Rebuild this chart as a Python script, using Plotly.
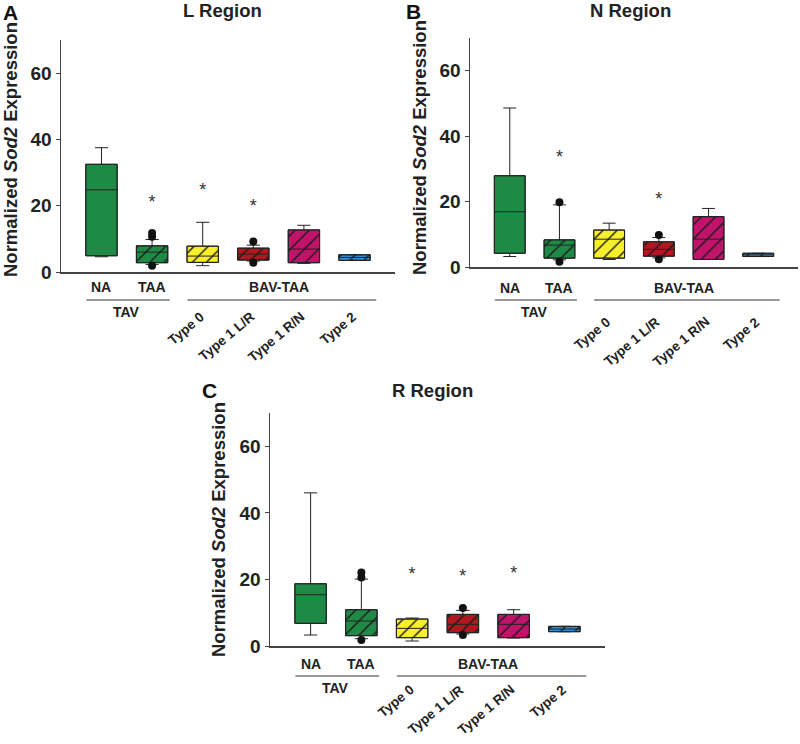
import plotly.graph_objects as go

# ---------------- data ----------------
cats = ["NA", "TAA", "Type 0", "Type 1 L/R", "Type 1 R/N", "Type 2"]
colors = ["#1f8a45", "#1f8a45", "#f7ee2c", "#b0171f", "#c0136a", "#2e8fd8"]
hatched = [False, True, True, True, True, True]

# L region
L_q1 = [4.9, 2.8, 2.9, 3.6, 2.8, 3.5]
L_med = [24.8, 6.0, 4.8, 5.4, 6.9, 4.4]
L_q3 = [32.5, 7.9, 7.8, 7.2, 12.7, 5.2]
L_lo = [4.6, 2.3, 1.9, 3.3, 2.6, 3.5]
L_hi = [37.5, 9.8, 15.0, 8.1, 14.1, 5.2]
L_out_cat = ["TAA", "TAA", "TAA", "Type 1 L/R", "Type 1 L/R"]
L_out_val = [11.8, 10.6, 1.9, 9.2, 2.8]
L_star = [None, 20.8, 24.3, 19.6, None, None]

# N region
N_q1 = [4.2, 2.7, 2.7, 3.3, 2.3, 3.2]
N_med = [16.9, 6.7, 8.5, 5.4, 8.5, 3.7]
N_q3 = [27.9, 8.3, 11.3, 7.7, 15.4, 4.2]
N_lo = [3.2, 2.2, 2.3, 2.8, 2.3, 3.2]
N_hi = [48.6, 19.0, 13.4, 9.0, 17.9, 4.2]
N_out_cat = ["TAA", "TAA", "Type 1 L/R", "Type 1 L/R"]
N_out_val = [19.8, 1.6, 9.8, 2.4]
N_star = [None, 33.1, None, 20.4, None, None]

# R region
R_q1 = [6.8, 3.1, 2.5, 4.0, 2.5, 4.3]
R_med = [15.4, 7.5, 5.3, 6.5, 6.5, 5.1]
R_q3 = [18.7, 10.9, 8.1, 9.5, 9.5, 5.9]
R_lo = [3.3, 2.2, 1.5, 3.6, 2.4, 4.3]
R_hi = [46.0, 20.1, 8.4, 10.7, 10.9, 5.9]
R_out_cat = ["TAA", "TAA", "TAA", "Type 1 L/R", "Type 1 L/R"]
R_out_val = [22.1, 20.6, 1.8, 11.4, 3.3]
R_star = [None, None, 21.3, 20.6, 21.5, None]

y_ticks = [0, 20, 40, 60]
group_top = ["NA", "TAA"]
group_names = ["TAV", "BAV-TAA"]
rot_labels = ["Type 0", "Type 1 L/R", "Type 1 R/N", "Type 2"]

FONT = "Arial, 'Liberation Sans', sans-serif"
W, H = 800, 744

panels = [
    dict(title="L Region", letter="A", sfx="", q1=L_q1, med=L_med, q3=L_q3, lo=L_lo, hi=L_hi,
         oc=L_out_cat, ov=L_out_val, star=L_star,
         px=(61, 395), py=(40, 272), title_xy=(222, 11), letter_xy=(10, 13), ytitle_xy=(10, 150),
         off_lab=15, off_line=28, off_tav=40, off_rot=34),
    dict(title="N Region", letter="B", sfx="2", q1=N_q1, med=N_med, q3=N_q3, lo=N_lo, hi=N_hi,
         oc=N_out_cat, ov=N_out_val, star=N_star,
         px=(470, 798), py=(38, 267), title_xy=(630, 11), letter_xy=(413, 12), ytitle_xy=(419, 148),
         off_lab=21, off_line=33, off_tav=45, off_rot=44),
    dict(title="R Region", letter="C", sfx="3", q1=R_q1, med=R_med, q3=R_q3, lo=R_lo, hi=R_hi,
         oc=R_out_cat, ov=R_out_val, star=R_star,
         px=(270, 605), py=(413, 646), title_xy=(432, 390), letter_xy=(209, 390), ytitle_xy=(218, 530),
         off_lab=18, off_line=30, off_tav=42, off_rot=33),
]

fig = go.Figure()
annotations = []
shapes = []
layout_axes = {}

for p in panels:
    xa = "x" + p["sfx"]
    ya = "y" + p["sfx"]
    xkey = "xaxis" + p["sfx"]
    ykey = "yaxis" + p["sfx"]
    dom_h = p["py"][1] - p["py"][0]
    heights = [b - a for a, b in zip(p["q1"], p["q3"])]

    # solid box bodies
    fig.add_trace(go.Bar(
        x=cats, y=heights, base=p["q1"], width=0.62, xaxis=xa, yaxis=ya,
        marker=dict(color=colors, line=dict(color="#222", width=1)),
        hoverinfo="skip", showlegend=False))
    # black hatching on top of the hatched groups
    hx = [c for c, h in zip(cats, hatched) if h]
    hy = [v for v, h in zip(heights, hatched) if h]
    hb = [v for v, h in zip(p["q1"], hatched) if h]
    fig.add_trace(go.Bar(
        x=hx, y=hy, base=hb, width=0.62, xaxis=xa, yaxis=ya,
        marker=dict(color="#1a1a1a", line=dict(width=0),
                    pattern=dict(shape="/", fillmode="replace", size=10, solidity=0.14)),
        hoverinfo="skip", showlegend=False))
    # box outlines, medians and whiskers
    fig.add_trace(go.Box(
        x=cats, q1=p["q1"], median=p["med"], q3=p["q3"],
        lowerfence=p["lo"], upperfence=p["hi"],
        width=0.62, whiskerwidth=0.42, boxpoints=False,
        fillcolor="rgba(0,0,0,0)", line=dict(color="#222", width=1),
        xaxis=xa, yaxis=ya, showlegend=False, hoverinfo="skip"))
    # outliers
    fig.add_trace(go.Scatter(
        x=p["oc"], y=p["ov"], mode="markers", xaxis=xa, yaxis=ya,
        marker=dict(color="#111", size=8), showlegend=False, hoverinfo="skip"))
    # significance stars
    fig.add_trace(go.Scatter(
        x=cats, y=p["star"], mode="text", text=["*"] * len(cats), xaxis=xa, yaxis=ya,
        textfont=dict(family=FONT, size=18, color="#333"), showlegend=False, hoverinfo="skip"))

    layout_axes[xkey] = dict(
        domain=[p["px"][0] / W, p["px"][1] / W], anchor=ya,
        type="category", categoryorder="array", categoryarray=cats,
        range=[-0.8, 5.8], showticklabels=False, ticks="", showgrid=False, zeroline=False,
        showline=True, linecolor="#444", linewidth=1.5, fixedrange=True)
    layout_axes[ykey] = dict(
        domain=[1 - p["py"][1] / H, 1 - p["py"][0] / H], anchor=xa,
        range=[0, 70], tickvals=y_ticks, ticks="outside", ticklen=4, tickcolor="#444",
        ticklabelstandoff=0,
        tickfont=dict(family=FONT, size=19, color="#222", weight="bold"),
        showgrid=False, zeroline=False, showline=True, linecolor="#444", linewidth=1.5,
        fixedrange=True)

    yd = ya + " domain"
    # group labels
    for c in group_top:
        annotations.append(dict(x=c, y=-p["off_lab"] / dom_h, xref=xa, yref=yd, text=c,
                                showarrow=False, xanchor="center", yanchor="middle",
                                font=dict(family=FONT, size=14, color="#222", weight="bold")))
    annotations.append(dict(x=3.5, y=-p["off_lab"] / dom_h, xref=xa, yref=yd, text=group_names[1],
                            showarrow=False, xanchor="center", yanchor="middle",
                            font=dict(family=FONT, size=14, color="#222", weight="bold")))
    annotations.append(dict(x=0.5, y=-p["off_tav"] / dom_h, xref=xa, yref=yd, text=group_names[0],
                            showarrow=False, xanchor="center", yanchor="middle",
                            font=dict(family=FONT, size=14, color="#222", weight="bold")))
    for i, c in enumerate(rot_labels):
        annotations.append(dict(x=2 + i + 0.14, y=-p["off_rot"] / dom_h, xref=xa, yref=yd, text=c,
                                showarrow=False, xanchor="right", yanchor="top", textangle=-40,
                                font=dict(family=FONT, size=13.5, color="#222", weight="bold")))
    for x0, x1 in [(-0.3, 1.35), (1.7, 5.43)]:
        shapes.append(dict(type="line", xref=xa, yref=yd, x0=x0, x1=x1,
                           y0=-p["off_line"] / dom_h, y1=-p["off_line"] / dom_h,
                           line=dict(color="#333", width=1.2)))

    # title, letter, y-axis title
    annotations.append(dict(x=p["title_xy"][0] / W, y=1 - p["title_xy"][1] / H, xref="paper", yref="paper",
                            text=p["title"], showarrow=False, xanchor="center", yanchor="middle",
                            font=dict(family=FONT, size=18.5, color="#222", weight="bold")))
    annotations.append(dict(x=p["letter_xy"][0] / W, y=1 - p["letter_xy"][1] / H, xref="paper", yref="paper",
                            text=p["letter"], showarrow=False, xanchor="center", yanchor="middle",
                            font=dict(family=FONT, size=21, color="#111", weight="bold")))
    annotations.append(dict(x=p["ytitle_xy"][0] / W, y=1 - p["ytitle_xy"][1] / H, xref="paper", yref="paper",
                            text="Normalized <i>Sod2</i> Expression", textangle=-90,
                            showarrow=False, xanchor="center", yanchor="middle",
                            font=dict(family=FONT, size=18.5, color="#222", weight="bold")))

fig.update_layout(
    width=W, height=H, margin=dict(l=0, r=0, t=0, b=0, autoexpand=False),
    paper_bgcolor="white", plot_bgcolor="white", showlegend=False,
    barmode="overlay", annotations=annotations, shapes=shapes, **layout_axes)

fig.write_html("out.html", config={"displayModeBar": False, "staticPlot": True},
               post_script="document.body.style.margin='0';")
